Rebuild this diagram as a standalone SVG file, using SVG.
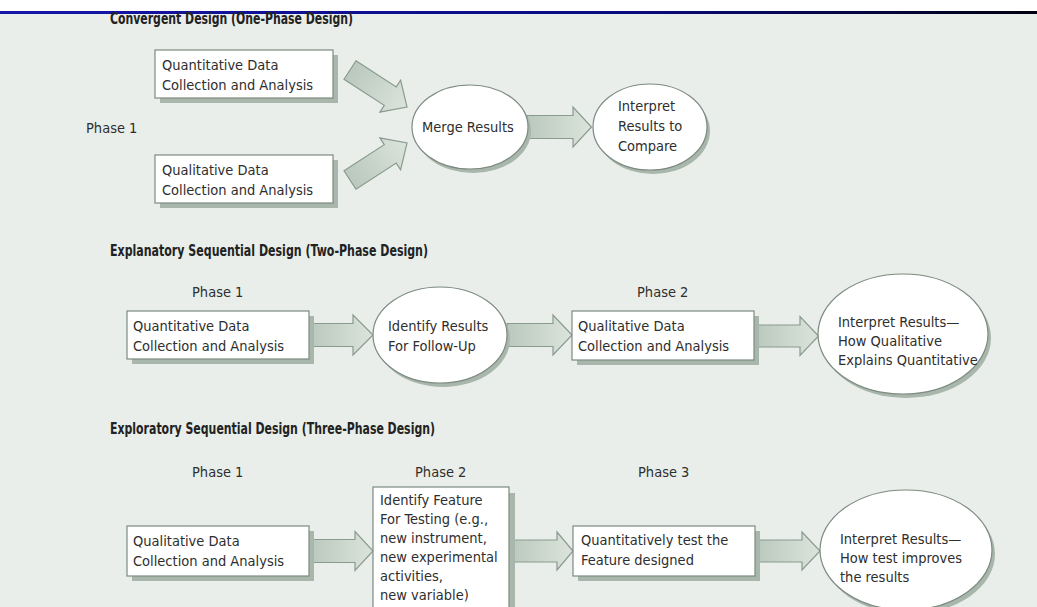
<svg xmlns="http://www.w3.org/2000/svg" width="1037" height="607" viewBox="0 0 1037 607">
  <defs>
    <linearGradient id="topline" x1="0" y1="0" x2="1" y2="0">
      <stop offset="0" stop-color="#1616a8"/>
      <stop offset="0.6" stop-color="#0a0a80"/>
      <stop offset="1" stop-color="#000010"/>
    </linearGradient>
    <linearGradient id="arrfill" x1="0" y1="0" x2="1" y2="0">
      <stop offset="0" stop-color="#bac8bd"/>
      <stop offset="1" stop-color="#dbe4dc"/>
    </linearGradient>
    <style>
      .bg { fill: #e9eeea; }
      .box { fill: #ffffff; stroke: #7d8a81; stroke-width: 1.2; }
      .shadow { fill: #a8b6ab; }
      .ell { fill: #ffffff; stroke: #7d8a81; stroke-width: 1.2; }
      .arr { fill: url(#arrfill); stroke: #8a9a8e; stroke-width: 1.2; stroke-linejoin: miter; }
      .t { font-family: "DejaVu Sans Condensed", "Liberation Sans Narrow", "Liberation Sans", sans-serif; font-size: 14.5px; fill: #2e2e2e; }
      .ph { font-family: "DejaVu Sans Condensed", "Liberation Sans Narrow", "Liberation Sans", sans-serif; font-size: 14.5px; fill: #2e2e2e; }
      .title { font-family: "DejaVu Sans Condensed", "Liberation Sans Narrow", "Liberation Sans", sans-serif; font-size: 15px; font-weight: bold; fill: #222222; }
    </style>
  </defs>

  <rect x="0" y="0" width="1037" height="607" class="bg"/>
  <rect x="0" y="0" width="1037" height="11" fill="#ffffff"/>
  <rect x="0" y="11" width="1037" height="3" fill="url(#topline)"/>

  <!-- Titles and phase labels -->
  <g id="titles">
    <text class="title" x="110" y="24" textLength="243" lengthAdjust="spacingAndGlyphs">Convergent Design (One-Phase Design)</text>
    <text class="title" x="110" y="256" textLength="318" lengthAdjust="spacingAndGlyphs">Explanatory Sequential Design (Two-Phase Design)</text>
    <text class="title" x="110" y="434" textLength="325" lengthAdjust="spacingAndGlyphs">Exploratory Sequential Design (Three-Phase Design)</text>
  </g>
  <g id="phases">
    <text class="ph" x="86" y="133">Phase 1</text>
    <text class="ph" x="192" y="297">Phase 1</text>
    <text class="ph" x="637" y="297">Phase 2</text>
    <text class="ph" x="192" y="477">Phase 1</text>
    <text class="ph" x="415" y="477">Phase 2</text>
    <text class="ph" x="638" y="477">Phase 3</text>
  </g>

  <!-- Connectors -->
  <g id="connectors">
    <path class="arr" transform="translate(350,70) rotate(33)" d="M0,-11 L48,-11 L48,-19 L68,0 L48,19 L48,11 L0,11 Z"/>
    <path class="arr" transform="translate(350,180) rotate(-33)" d="M0,-11 L48,-11 L48,-19 L68,0 L48,19 L48,11 L0,11 Z"/>
    <path class="arr" d="M527,115.5 L573,115.5 L573,107 L591.5,127 L573,147 L573,138.5 L527,138.5 Z"/>

    <path class="arr" d="M310,323.5 L353,323.5 L353,315 L373,335 L353,355 L353,346.5 L310,346.5 Z"/>
    <path class="arr" d="M507,323.5 L553,323.5 L553,315 L572,335 L553,355 L553,346.5 L507,346.5 Z"/>
    <path class="arr" d="M755,325 L800,325 L800,316.5 L818.5,336 L800,355.5 L800,347 L755,347 Z"/>

    <path class="arr" d="M310,539.5 L355,539.5 L355,531.5 L373,551 L355,570.5 L355,562.5 L310,562.5 Z"/>
    <path class="arr" d="M509,540 L557,540 L557,532 L573,551 L557,570 L557,562 L509,562 Z"/>
    <path class="arr" d="M756,540 L802,540 L802,532 L820,551 L802,570 L802,562 L756,562 Z"/>
  </g>

  <!-- Section 1 nodes -->
  <g id="s1-quant">
    <rect class="shadow" x="160" y="55" width="178" height="48"/>
    <rect class="box" x="155" y="50" width="178" height="48"/>
    <text class="t" x="162" y="70">Quantitative Data</text>
    <text class="t" x="162" y="90">Collection and Analysis</text>
  </g>
  <g id="s1-qual">
    <rect class="shadow" x="160" y="160" width="178" height="48"/>
    <rect class="box" x="155" y="155" width="178" height="48"/>
    <text class="t" x="162" y="175">Qualitative Data</text>
    <text class="t" x="162" y="195">Collection and Analysis</text>
  </g>
  <g id="s1-merge">
    <ellipse class="shadow" cx="473" cy="131" rx="58" ry="42"/>
    <ellipse class="ell" cx="470" cy="127" rx="58" ry="42"/>
    <text class="t" x="422" y="132">Merge Results</text>
  </g>
  <g id="s1-interpret">
    <ellipse class="shadow" cx="653" cy="131" rx="57" ry="43"/>
    <ellipse class="ell" cx="650" cy="127" rx="57" ry="43"/>
    <text class="t" x="618" y="111">Interpret</text>
    <text class="t" x="618" y="131">Results to</text>
    <text class="t" x="618" y="151">Compare</text>
  </g>

  <!-- Section 2 nodes -->
  <g id="s2-quant">
    <rect class="shadow" x="132" y="316" width="182" height="48"/>
    <rect class="box" x="127" y="311" width="182" height="48"/>
    <text class="t" x="133" y="331">Quantitative Data</text>
    <text class="t" x="133" y="351">Collection and Analysis</text>
  </g>
  <g id="s2-identify">
    <ellipse class="shadow" cx="443" cy="339" rx="67" ry="48"/>
    <ellipse class="ell" cx="440" cy="335" rx="67" ry="48"/>
    <text class="t" x="388" y="331">Identify Results</text>
    <text class="t" x="388" y="351">For Follow-Up</text>
  </g>
  <g id="s2-qual">
    <rect class="shadow" x="577" y="316" width="182" height="49"/>
    <rect class="box" x="572" y="311" width="182" height="49"/>
    <text class="t" x="578" y="331">Qualitative Data</text>
    <text class="t" x="578" y="351">Collection and Analysis</text>
  </g>
  <g id="s2-interpret">
    <ellipse class="shadow" cx="906" cy="338" rx="85" ry="60"/>
    <ellipse class="ell" cx="903" cy="334" rx="85" ry="60"/>
    <text class="t" x="838" y="327">Interpret Results—</text>
    <text class="t" x="838" y="346">How Qualitative</text>
    <text class="t" x="838" y="365">Explains Quantitative</text>
  </g>

  <!-- Section 3 nodes -->
  <g id="s3-qual">
    <rect class="shadow" x="132" y="531" width="182" height="50"/>
    <rect class="box" x="127" y="526" width="182" height="50"/>
    <text class="t" x="133" y="546">Qualitative Data</text>
    <text class="t" x="133" y="566">Collection and Analysis</text>
  </g>
  <g id="s3-feature">
    <rect class="shadow" x="379" y="493" width="136" height="140"/>
    <rect class="box" x="373" y="487" width="136" height="140"/>
    <text class="t" x="380" y="505">Identify Feature</text>
    <text class="t" x="380" y="524">For Testing (e.g.,</text>
    <text class="t" x="380" y="543">new instrument,</text>
    <text class="t" x="380" y="562">new experimental</text>
    <text class="t" x="380" y="581">activities,</text>
    <text class="t" x="380" y="600">new variable)</text>
  </g>
  <g id="s3-quant">
    <rect class="shadow" x="578" y="531" width="182" height="50"/>
    <rect class="box" x="573" y="526" width="182" height="50"/>
    <text class="t" x="581" y="545">Quantitatively test the</text>
    <text class="t" x="581" y="565">Feature designed</text>
  </g>
  <g id="s3-interpret">
    <ellipse class="shadow" cx="909" cy="554" rx="86" ry="60"/>
    <ellipse class="ell" cx="906" cy="550" rx="86" ry="60"/>
    <text class="t" x="840" y="544">Interpret Results—</text>
    <text class="t" x="840" y="563">How test improves</text>
    <text class="t" x="840" y="582">the results</text>
  </g>
</svg>
